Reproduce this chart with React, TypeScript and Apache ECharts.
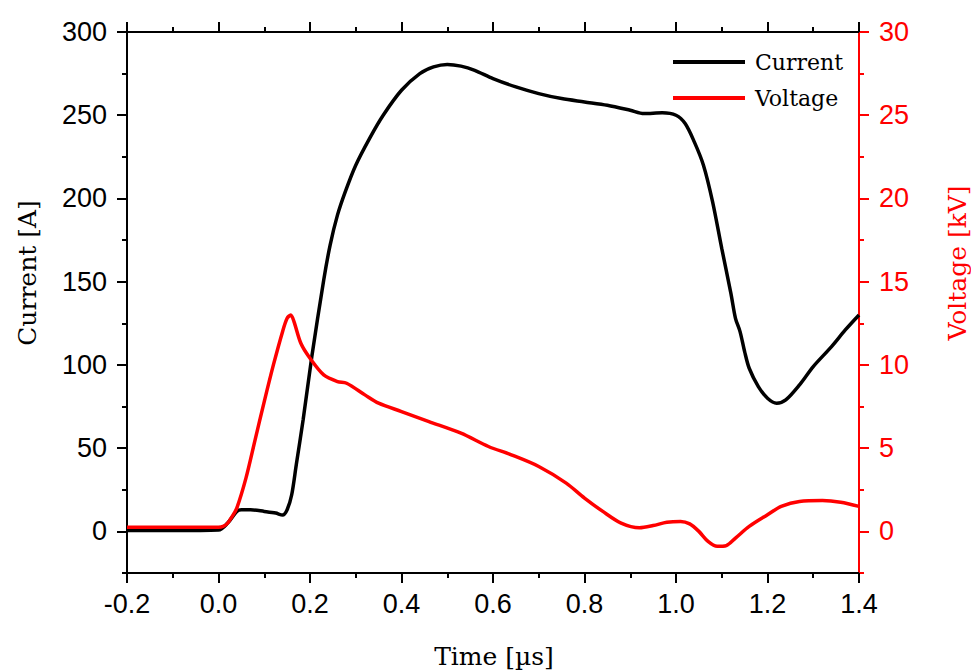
import React, { useEffect, useRef } from "react";
import * as echarts from "echarts";

const currentTimes = [
  -0.2, -0.1, 0.0, 0.02, 0.04, 0.05, 0.07, 0.1, 0.125, 0.14, 0.15, 0.16, 0.17, 0.185, 0.204,
  0.23, 0.244, 0.26, 0.277, 0.3, 0.33, 0.36, 0.4, 0.44, 0.47, 0.5, 0.53, 0.56, 0.6, 0.65,
  0.7, 0.75, 0.8, 0.85, 0.9, 0.93, 0.97, 1.0, 1.02, 1.04, 1.06, 1.08, 1.1, 1.12, 1.13,
  1.14, 1.15, 1.16, 1.18, 1.2, 1.22, 1.24, 1.27, 1.3, 1.34, 1.37, 1.4,
];
const currentValues = [
  0.5, 0.5, 0.8, 5, 12, 13, 13, 12, 11, 9.8, 13, 22, 40, 67, 105,
  151, 172, 190, 204, 220, 236, 250, 265, 275, 279, 280.5, 279.5, 277, 272, 267,
  263, 260, 258, 256, 253, 251, 251.5, 250, 245, 234, 220, 198, 170, 143, 128,
  120, 108, 98, 87, 80, 77, 79, 88, 99, 111, 121, 130,
];

const voltageTimes = [
  -0.2, -0.1, 0.0, 0.01, 0.02, 0.03, 0.04, 0.06, 0.08, 0.1, 0.12, 0.14, 0.15, 0.158,
  0.165, 0.18, 0.2, 0.23, 0.26, 0.28, 0.32, 0.35, 0.4, 0.46, 0.53, 0.59, 0.64, 0.7,
  0.76, 0.8, 0.84, 0.88, 0.92, 0.95, 0.98, 1.01, 1.03, 1.05, 1.07, 1.09, 1.11, 1.13,
  1.16, 1.2, 1.23, 1.27, 1.32, 1.36, 1.4,
];
const voltageValues = [
  0.25, 0.25, 0.25, 0.3, 0.5, 0.9, 1.4, 3.2, 5.5, 7.8, 10.0, 12.0, 12.8, 13.0,
  12.6, 11.3, 10.4, 9.4, 9.0, 8.9, 8.2, 7.7, 7.2, 6.6, 5.9, 5.1, 4.6, 3.9,
  2.9, 2.0, 1.2, 0.5, 0.22, 0.35, 0.55, 0.6, 0.45, 0.0, -0.6, -0.9, -0.85, -0.4,
  0.3, 1.0, 1.5, 1.8, 1.85, 1.75, 1.5,
];

const currentMajor = [0, 50, 100, 150, 200, 250, 300];
const currentMinor = [-25, 25, 75, 125, 175, 225, 275];
const voltageMajor = [0, 5, 10, 15, 20, 25, 30];
const voltageMinor = [-2.5, 2.5, 7.5, 12.5, 17.5, 22.5, 27.5];

const labelFont = { fontFamily: "Liberation Sans", fontSize: 27 };

export default function App() {
  const ref = useRef<HTMLDivElement>(null);
  useEffect(() => {
    if (!ref.current) return;
    const chart = echarts.init(ref.current, undefined, { renderer: "svg" });
    const black = "#000000";
    const red = "#ff0000";
    const xBase = (pos: "bottom" | "top", labels: boolean) => ({
      type: "value",
      position: pos,
      min: -0.2,
      max: 1.4,
      interval: 0.2,
      axisLine: { show: true, onZero: false, lineStyle: { color: black, width: 2 } },
      axisTick: { show: true, inside: false, length: 10, lineStyle: { color: black, width: 2 } },
      minorTick: { show: true, splitNumber: 2, length: 5, lineStyle: { color: black, width: 2 } },
      splitLine: { show: false },
      minorSplitLine: { show: false },
      axisLabel: {
        show: labels,
        color: black,
        margin: 17,
        ...labelFont,
        formatter: (v: number) => v.toFixed(1),
      },
    });
    const yBase = (
      pos: "left" | "right",
      color: string,
      min: number,
      max: number,
      ticks: number[],
      len: number,
      labels: boolean
    ) => ({
      type: "value",
      position: pos,
      min,
      max,
      axisLine: { show: true, onZero: false, lineStyle: { color, width: 2 } },
      axisTick: {
        show: true,
        inside: false,
        length: len,
        customValues: ticks,
        lineStyle: { color, width: 2 },
      },
      splitLine: { show: false },
      axisLabel: {
        show: labels,
        color,
        margin: 20,
        customValues: ticks,
        ...labelFont,
      },
    });
    chart.setOption({
      animation: false,
      backgroundColor: "#ffffff",
      grid: { left: 127, right: 112, top: 32, bottom: 99, containLabel: false },
      xAxis: [xBase("bottom", true), xBase("top", false)],
      yAxis: [
        yBase("left", black, -25, 300, currentMajor, 10, true),
        yBase("left", black, -25, 300, currentMinor, 5, false),
        yBase("right", red, -2.5, 30, voltageMajor, 10, true),
        yBase("right", red, -2.5, 30, voltageMinor, 5, false),
      ],
      legend: {
        orient: "vertical",
        left: 673,
        top: 50,
        padding: 0,
        itemWidth: 72,
        itemHeight: 4,
        itemGap: 12,
        icon: "rect",
        data: ["Current", "Voltage"],
        textStyle: {
          fontFamily: "DejaVu Serif",
          fontSize: 22,
          color: black,
          lineHeight: 24,
          padding: [0, 0, 0, 5],
        },
      },
      series: [
        {
          name: "Current",
          type: "line",
          xAxisIndex: 0,
          yAxisIndex: 0,
          smooth: 0.3,
          showSymbol: false,
          lineStyle: { color: black, width: 3.5 },
          itemStyle: { color: black },
          data: currentTimes.map((t, i) => [t, currentValues[i]]),
        },
        {
          name: "Voltage",
          type: "line",
          xAxisIndex: 0,
          yAxisIndex: 2,
          smooth: 0.3,
          showSymbol: false,
          lineStyle: { color: red, width: 3.5 },
          itemStyle: { color: red },
          data: voltageTimes.map((t, i) => [t, voltageValues[i]]),
        },
      ],
      graphic: [
        {
          type: "text",
          x: 27,
          y: 273,
          rotation: Math.PI / 2,
          style: {
            text: "Current [A]",
            fill: black,
            fontFamily: "DejaVu Serif",
            fontSize: 25,
            align: "center",
            verticalAlign: "middle",
          },
        },
        {
          type: "text",
          x: 957,
          y: 263,
          rotation: Math.PI / 2,
          style: {
            text: "Voltage [kV]",
            fill: red,
            fontFamily: "DejaVu Serif",
            fontSize: 25,
            align: "center",
            verticalAlign: "middle",
          },
        },
        {
          type: "text",
          x: 494,
          y: 656,
          style: {
            text: "Time [µs]",
            fill: black,
            fontFamily: "DejaVu Serif",
            fontSize: 25,
            align: "center",
            verticalAlign: "middle",
          },
        },
      ],
    });
    return () => chart.dispose();
  }, []);
  return (
    <div
      ref={ref}
      style={{ position: "fixed", left: 0, top: 0, width: 971, height: 672, background: "#fff" }}
    />
  );
}
